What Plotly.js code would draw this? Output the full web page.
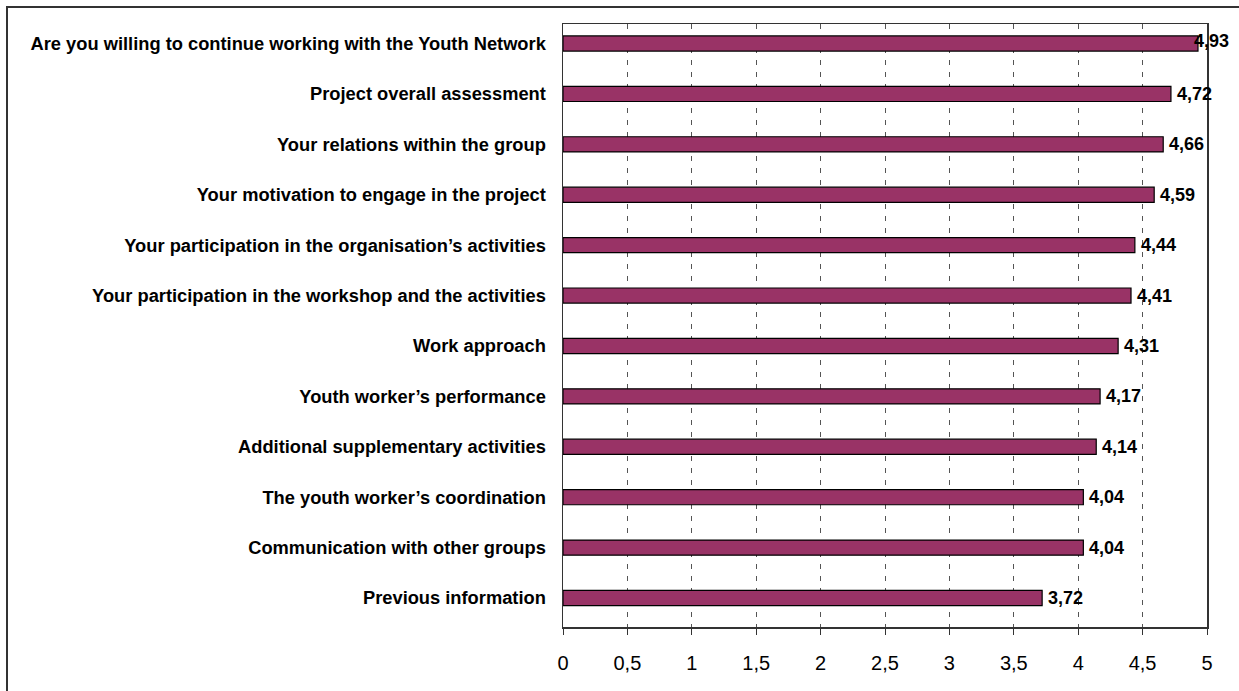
<!DOCTYPE html>
<html>
<head>
<meta charset="utf-8">
<script src="https://cdn.plot.ly/plotly-3.0.1.min.js"></script>
<style>
html,body{margin:0;padding:0;background:#fff;}
#chart{width:1239px;height:691px;}
</style>
</head>
<body>
<div id="chart"></div>
<script>
var categories = [
  "Are you willing to continue working with the Youth Network",
  "Project overall assessment",
  "Your relations within the group",
  "Your motivation to engage in the project",
  "Your participation in the organisation\u2019s activities",
  "Your participation in the workshop and the activities",
  "Work approach",
  "Youth worker\u2019s performance",
  "Additional supplementary activities",
  "The youth worker\u2019s coordination",
  "Communication with other groups",
  "Previous information"
];
var values = [4.93, 4.72, 4.66, 4.59, 4.44, 4.41, 4.31, 4.17, 4.14, 4.04, 4.04, 3.72];
var tickVals = [0, 0.5, 1, 1.5, 2, 2.5, 3, 3.5, 4, 4.5, 5];

var annotations = values.map(function(v, i){
  var isMax = v >= 4.9;
  return {
    x: v, y: categories[i], xref: 'x', yref: 'y',
    text: String(v.toFixed(2)).replace('.', ','),
    showarrow: false, xanchor: 'left', yanchor: 'middle',
    xshift: isMax ? -6 : 4, yshift: isMax ? 3 : 0,
    font: {family: 'Liberation Sans, Arial, sans-serif', size: 18, color: '#000', weight: 'bold'}
  };
});

var W = 644, H = 603;
var shapes = [{
  type: 'rect', xref: 'paper', yref: 'paper',
  x0: (7 - 563) / W, x1: (1260 - 563) / W,
  y0: (627 - 720) / H, y1: (627 - 7) / H,
  line: {color: '#333', width: 2}, fillcolor: 'rgba(0,0,0,0)', layer: 'below'
}];

var trace = {
  type: 'bar', orientation: 'h',
  x: values, y: categories,
  width: 0.3,
  marker: {color: '#993366', line: {color: '#000', width: 1.2}},
  hoverinfo: 'x+y'
};

var layout = {
  width: 1239, height: 691,
  margin: {l: 563, r: 32, t: 24, b: 64},
  paper_bgcolor: '#fff', plot_bgcolor: '#fff',
  separators: ',.',
  showlegend: false,
  font: {family: 'Liberation Sans, Arial, sans-serif', color: '#000'},
  xaxis: {
    range: [0, 5], tickvals: tickVals,
    ticktext: tickVals.map(function(t){ return String(t).replace('.', ','); }),
    showgrid: true, gridcolor: '#555', griddash: '5px,7px', gridwidth: 1,
    zeroline: false,
    showline: true, linecolor: '#333', linewidth: 1.5, mirror: true,
    ticks: 'outside', ticklen: 6, tickcolor: '#333', tickwidth: 1,
    tickfont: {size: 20, color: '#000'},
    ticklabelstandoff: 11,
    fixedrange: true
  },
  yaxis: {
    type: 'category', range: [11.575, -0.387],
    showgrid: false, zeroline: false,
    showline: true, linecolor: '#333', linewidth: 1.5, mirror: true,
    ticks: '', ticklabelstandoff: 12,
    tickfont: {size: 18.3, color: '#000', weight: 'bold'},
    fixedrange: true
  },
  annotations: annotations,
  shapes: shapes
};

Plotly.newPlot('chart', [trace], layout, {displayModeBar: false, staticPlot: true});
</script>
</body>
</html>
